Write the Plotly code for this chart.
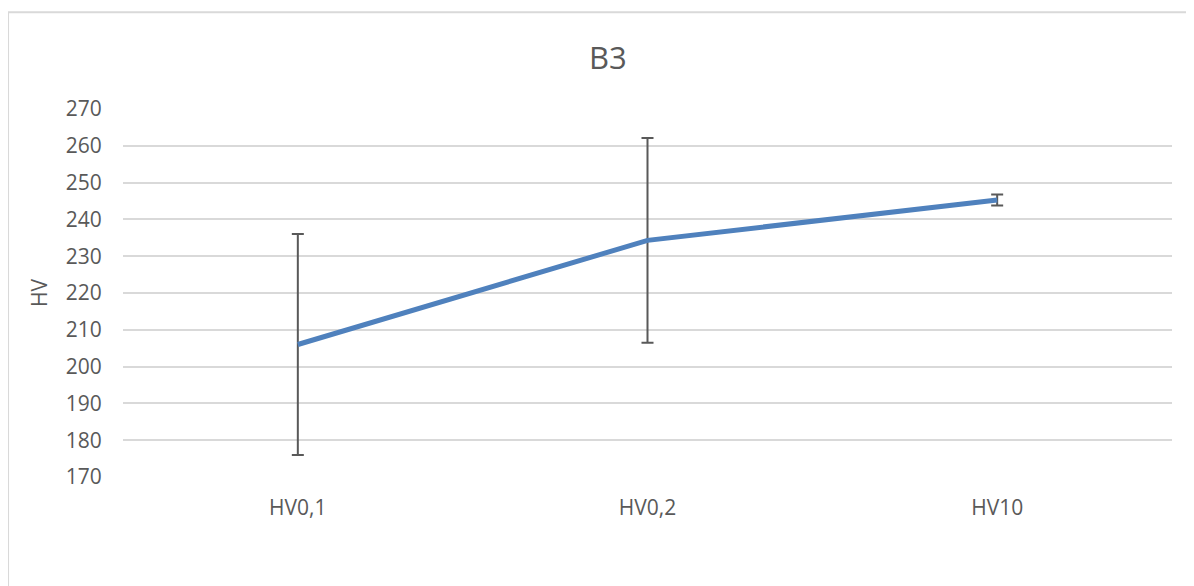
import plotly.graph_objects as go

categories = ["HV0,1", "HV0,2", "HV10"]
hv_mean = [206.0, 234.3, 245.3]
hv_err = [30.0, 27.8, 1.5]
y_ticks = [170, 180, 190, 200, 210, 220, 230, 240, 250, 260, 270]

text_grey = "#595959"
grid_grey = "#d9d9d9"
font_family = "Open Sans, Lato, sans-serif"

fig = go.Figure()
fig.add_trace(go.Scatter(
    x=categories,
    y=hv_mean,
    mode="lines",
    line=dict(color="#4f81bd", width=5),
    error_y=dict(
        type="data",
        array=hv_err,
        visible=True,
        color=text_grey,
        thickness=2,
        width=6,
    ),
    hoverinfo="skip",
))

# light frame around the chart area, like the spreadsheet chart border
fig.add_shape(
    type="rect", xref="paper", yref="paper",
    x0=-0.1096, x1=1.05, y0=-0.4, y1=1.2628,
    line=dict(color=grid_grey, width=2),
    layer="below",
)

# the page body adds an 8px offset, so margins are shifted to compensate
fig.update_layout(
    width=1194,
    height=586,
    margin=dict(l=115, r=30, t=101, b=117),
    paper_bgcolor="white",
    plot_bgcolor="white",
    showlegend=False,
    font=dict(family=font_family, color=text_grey, size=21),
    title=dict(
        text="B3",
        x=0.5025,
        xanchor="center",
        y=0.915,
        yanchor="middle",
        font=dict(size=31, color=text_grey),
    ),
    xaxis=dict(
        type="category",
        range=[-0.5, 2.5],
        showgrid=False,
        showline=False,
        zeroline=False,
        ticks="outside",
        ticklen=12,
        tickcolor="rgba(0,0,0,0)",
        tickfont=dict(size=21, color=text_grey),
    ),
    yaxis=dict(
        range=[170, 270],
        tickvals=y_ticks,
        showgrid=True,
        gridcolor=grid_grey,
        gridwidth=1.5,
        zeroline=False,
        showline=False,
        ticks="outside",
        ticklen=16,
        tickcolor="rgba(0,0,0,0)",
        tickfont=dict(size=21, color=text_grey),
        title=dict(text="HV", standoff=12, font=dict(size=21, color=text_grey)),
    ),
)

fig.write_html("out.html")
